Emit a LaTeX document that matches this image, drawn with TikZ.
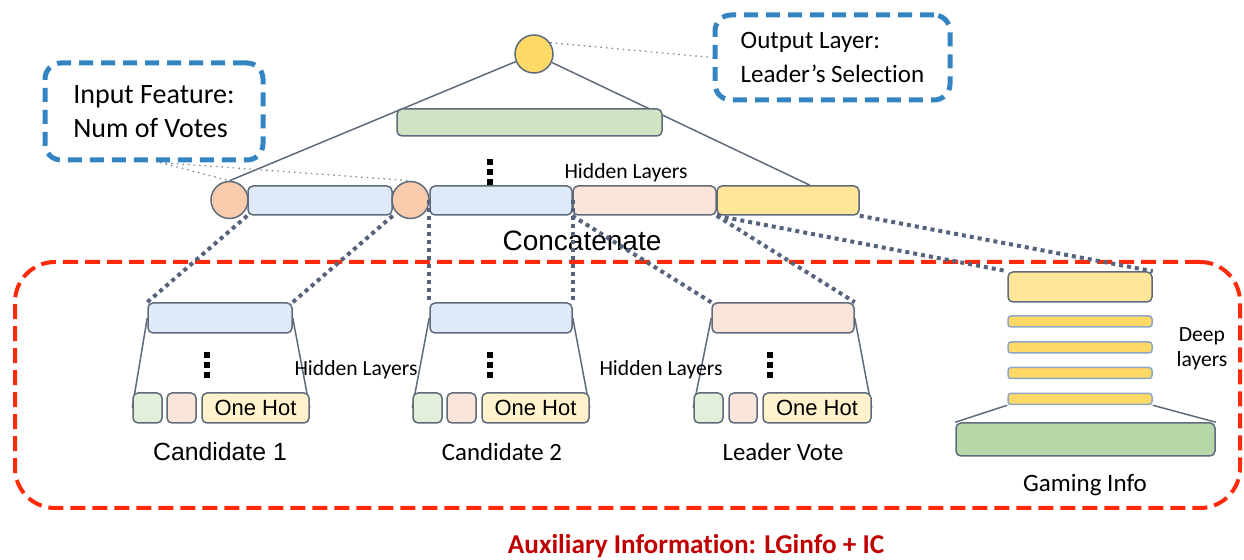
\documentclass[tikz,border=0pt]{standalone}
\usepackage{fontspec}
\setmainfont{Carlito}[Ligatures=TeX, RawFeature={-liga;-clig;-dlig}]
\newfontfamily\arialfont{Liberation Sans}
\usetikzlibrary{backgrounds}

\definecolor{edgec}{HTML}{5F6B7A}
\definecolor{dotc}{HTML}{56637A}
\definecolor{notec}{HTML}{3484C2}
\definecolor{auxc}{HTML}{FF2A0A}
\definecolor{auxtext}{HTML}{C00000}
\definecolor{lblue}{HTML}{DEEAF7}
\definecolor{lpeach}{HTML}{FBE5DA}
\definecolor{orangec}{HTML}{F8CBAD}
\definecolor{lyellow}{HTML}{FFE699}
\definecolor{yellowc}{HTML}{FFD966}
\definecolor{cream}{HTML}{FFF2CC}
\definecolor{lgreen}{HTML}{E2EFDA}
\definecolor{mgreen}{HTML}{D0E4C4}
\definecolor{dgreen}{HTML}{B6D7A8}
\definecolor{barline}{HTML}{8FA7C6}

\tikzset{
  boxw/.style={minimum width=#1*0.5pt},
  boxh/.style={minimum height=#1*0.5pt},
  layer/.style={draw=edgec, line width=0.75pt, rounded corners=2.5pt,
    inner sep=0pt, boxh=29},
  unit/.style={draw=edgec, line width=0.75pt, circle, inner sep=0pt,
    minimum size=18.5pt},
  bar/.style={draw=barline, line width=0.75pt, rounded corners=1.5pt,
    fill=yellowc, inner sep=0pt, boxw=144, boxh=11},
  notebox/.style={draw=notec, line width=2.5pt, rounded corners=8pt,
    dash pattern=on 7pt off 4pt, inner sep=0pt, align=left},
  auxframe/.style={draw=auxc, line width=2pt, rounded corners=20pt,
    dash pattern=on 7.5pt off 3.5pt, inner sep=0pt},
  link/.style={draw=edgec, line width=0.75pt},
  thinlink/.style={draw=edgec!80, line width=0.6pt, dash pattern=on 0.8pt off 2pt},
  dotlink/.style={draw=dotc, line width=2pt, dash pattern=on 2pt off 2pt},
  lbl/.style={inner sep=0pt, font=\fontsize{12.4}{15}\selectfont},
  hidlbl/.style={inner sep=0pt, font=\fontsize{10.8}{13}\selectfont},
  onehot/.style={layer, fill=cream, boxw=107, boxh=30,
    font=\arialfont\fontsize{11}{13}\selectfont},
  threedots/.pic={
    \foreach \yy in {-10,0,10}
      \fill (-3,\yy-3) rectangle (3,\yy+3);
  }
}

\begin{document}
\begin{tikzpicture}[x=0.5pt,y=-0.5pt]
\useasboundingbox (0,0) rectangle (1244,560);

% auxiliary information frame
\node[auxframe, boxw=1225, boxh=246] (aux) at (627.5,385) {};
\node[inner sep=0pt, text=auxtext, font=\bfseries\fontsize{13.6}{16}\selectfont]
  (auxlbl) at (696,546) {Auxiliary Information: LGinfo + IC};

% output unit and merging layer
\node[unit, fill=yellowc, minimum size=19pt] (outc) at (534,54) {};
\node[layer, fill=mgreen, boxw=265, boxh=27] (topbar) at (529.5,122.5) {};

% concatenated layer
\node[layer, fill=lblue, boxw=144] (b1) at (320,200.5) {};
\node[layer, fill=lblue, boxw=142] (b2) at (501,200.5) {};
\node[layer, fill=lpeach, boxw=143] (p1) at (644.5,200.5) {};
\node[layer, fill=lyellow, boxw=142] (y1) at (788,200.5) {};
\node[unit, fill=orangec] (oc1) at (229.5,200) {};
\node[unit, fill=orangec] (oc2) at (410.5,200) {};
\pic at (490,172) {threedots};
\node[hidlbl] (hid0) at (626,173) {Hidden Layers};
\node[inner sep=0pt, font=\arialfont\fontsize{14}{17}\selectfont] (concat) at (582,241) {Concatenate};

% annotation boxes
\node[notebox, boxw=218, boxh=97, font=\fontsize{14}{17}\selectfont]
  (inbox) at (154,111.5) {Input Feature:\\Num of Votes};
\node[notebox, boxw=235, boxh=85, font=\fontsize{12.5}{17}\selectfont]
  (outbox) at (832.5,57.5) {Output Layer:\\Leader’s Selection};

% candidate 1
\node[layer, fill=lblue, boxw=144, boxh=30] (c1top) at (220,318) {};
\node[layer, fill=lgreen, boxw=29, boxh=30] (c1g) at (147.5,408) {};
\node[layer, fill=lpeach, boxw=29, boxh=30] (c1p) at (181.5,408) {};
\node[onehot] (c1o) at (255.5,408) {One Hot};
\pic at (207,365) {threedots};
\node[lbl, font=\arialfont\fontsize{12.4}{15}\selectfont] (c1lbl) at (220,452) {Candidate 1};
\node[hidlbl] (hid1) at (356,370) {Hidden Layers};

% candidate 2
\node[layer, fill=lblue, boxw=142, boxh=30] (c2top) at (501,318) {};
\node[layer, fill=lgreen, boxw=29, boxh=30] (c2g) at (427.5,408) {};
\node[layer, fill=lpeach, boxw=29, boxh=30] (c2p) at (461.5,408) {};
\node[onehot] (c2o) at (535.5,408) {One Hot};
\pic at (490,365) {threedots};
\node[lbl] (c2lbl) at (502,452) {Candidate 2};
\node[hidlbl] (hid2) at (661,370) {Hidden Layers};

% leader vote
\node[layer, fill=lpeach, boxw=142, boxh=30] (lvtop) at (783,318) {};
\node[layer, fill=lgreen, boxw=29, boxh=30] (lvg) at (708.5,408) {};
\node[layer, fill=lpeach, boxw=28, boxh=30] (lvp) at (743,408) {};
\node[onehot, boxw=108] (lvo) at (817,408) {One Hot};
\pic at (770,365) {threedots};
\node[lbl] (lvlbl) at (783,452) {Leader Vote};

% gaming info
\node[layer, fill=lyellow, boxw=144, boxh=30] (gtop) at (1080,287) {};
\node[bar] (gb1) at (1080,321.5) {};
\node[bar] (gb2) at (1080,347.5) {};
\node[bar] (gb3) at (1080,373) {};
\node[bar] (gb4) at (1080,399) {};
\node[layer, fill=dgreen, boxw=259, boxh=33] (gbase) at (1085.5,439.5) {};
\node[hidlbl, align=center, font=\fontsize{10.8}{12.5}\selectfont] (deep) at (1202,349) {Deep\\layers};
\node[lbl, font=\fontsize{12.5}{15}\selectfont] (glbl) at (1085,485) {Gaming Info};

% solid connectors behind the layers
\begin{scope}[on background layer]
  \draw[link] (outc) -- (oc1.north);
  \draw[link] (outc) -- ([xshift=11pt]y1.north);
  \draw[link] (c1top.west) -- (c1g.west);
  \draw[link] (c1top.east) -- (c1o.east);
  \draw[link] (c2top.west) -- (c2g.west);
  \draw[link] (c2top.east) -- (c2o.east);
  \draw[link] (lvtop.west) -- (lvg.west);
  \draw[link] (lvtop.east) -- (lvo.east);
  \draw[link] (gb4.south west) -- (gbase.north west);
  \draw[link] (gb4.south east) -- (gbase.north east);
  \draw[thinlink] ([xshift=3pt]inbox.south) -- (oc1.north);
  \draw[thinlink] ([xshift=3pt]inbox.south) -- (oc2.north);
  \draw[thinlink] (outc.35) -- (outbox.west);
\end{scope}

% dotted links from the concatenated layer to each branch
\draw[dotlink] (b1.south west) -- (c1top.north west);
\draw[dotlink] (b1.south east) -- (c1top.north east);
\draw[dotlink] (b2.west) -- (c2top.north west);
\draw[dotlink] (b2.east) -- (c2top.north east);
\draw[dotlink] (p1.south west) -- (lvtop.north west);
\draw[dotlink] (p1.south east) -- (lvtop.north east);
\draw[dotlink] (p1.south east) -- (gtop.north west);
\draw[dotlink] (y1.south east) -- (gtop.north east);
\end{tikzpicture}
\end{document}
